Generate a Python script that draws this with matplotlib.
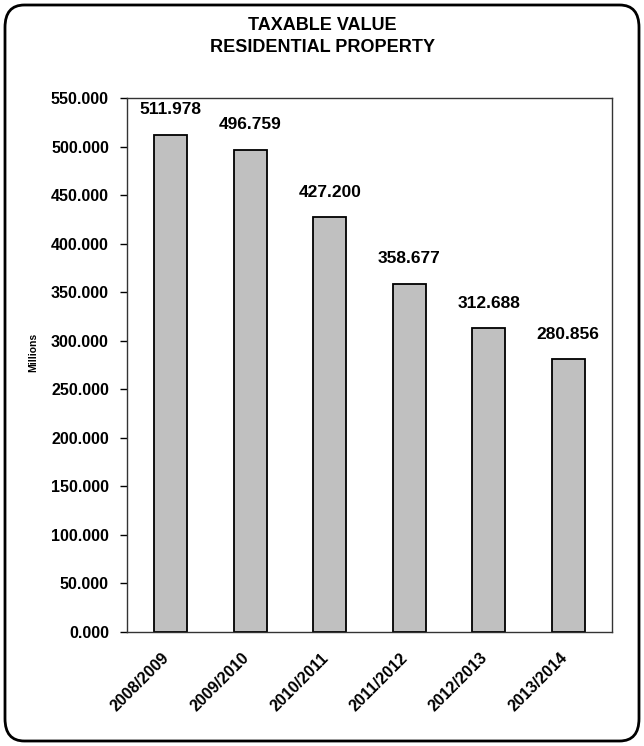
import matplotlib
matplotlib.use("Agg")
import matplotlib.pyplot as plt
import matplotlib.transforms as mtransforms
from matplotlib.patches import FancyBboxPatch

plt.rcParams['font.family'] = ['Liberation Sans', 'DejaVu Sans']

# Data
years = ["2008/2009", "2009/2010", "2010/2011", "2011/2012", "2012/2013", "2013/2014"]
values = [511.978, 496.759, 427.200, 358.677, 312.688, 280.856]
yticks = [0, 50, 100, 150, 200, 250, 300, 350, 400, 450, 500, 550]

W, H = 644, 746
fig = plt.figure(figsize=(W / 100, H / 100), dpi=100)

# Rounded outer frame
frame = FancyBboxPatch((5 / W, 5 / H), (W - 10) / W, (H - 10) / H,
                       boxstyle="round,pad=0,rounding_size=0.03",
                       transform=fig.transFigure, facecolor="white",
                       edgecolor="black", linewidth=2, zorder=-1)
fig.patches.append(frame)

left, right, top, bottom = 127, 612, 98, 632
ax = fig.add_axes([left / W, 1 - bottom / H, (right - left) / W, (bottom - top) / H])

x = range(len(years))
ax.bar(x, values, width=0.41, color="#C0C0C0", edgecolor="black", linewidth=1.3)
ax.set_xlim(-0.55, len(years) - 0.45)
ax.set_ylim(0, 550)
ax.set_yticks(yticks)
ax.set_yticklabels([f"{v:.3f}" for v in yticks], fontsize=11.5, fontweight="bold")
ax.set_xticks(list(x))
ax.set_xticklabels(years, rotation=45, ha="right", rotation_mode="anchor",
                   fontsize=11.5, fontweight="bold")
ax.tick_params(axis="y", length=5, width=1, direction="out", pad=8)
ax.tick_params(axis="x", length=0, pad=13)
shift = mtransforms.ScaledTranslation(-9 / 100, 0, fig.dpi_scale_trans)
for lbl in ax.get_xticklabels():
    lbl.set_transform(lbl.get_transform() + shift)
for s in ax.spines.values():
    s.set_linewidth(1)
    s.set_color("#333333")

fig.text(33 / W, 1 - 352 / H, "Millions", rotation=90, ha="center", va="center",
         fontsize=7.5, fontweight="bold")

for i, v in enumerate(values):
    ax.annotate(f"{v:.3f}", xy=(i, v), xytext=(0, 18), textcoords="offset points",
                ha="center", va="center", fontsize=12.5, fontweight="bold")

fig.text(0.5, 1 - 25 / H, "TAXABLE VALUE", ha="center", va="center",
         fontsize=13, fontweight="bold")
fig.text(0.5, 1 - 48 / H, "RESIDENTIAL PROPERTY", ha="center", va="center",
         fontsize=13, fontweight="bold")

fig.savefig("out.png", dpi=100)
